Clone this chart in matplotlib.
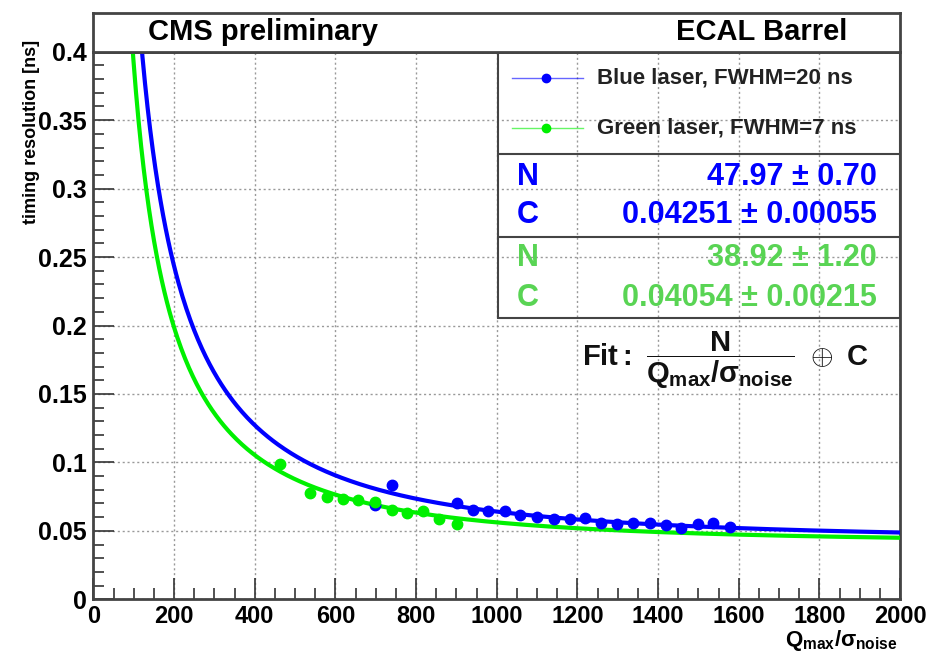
import numpy as np
import matplotlib
matplotlib.use("Agg")
import matplotlib.pyplot as plt
from matplotlib.patches import Rectangle
from matplotlib.ticker import MultipleLocator, FuncFormatter

plt.rcParams['font.family'] = ['Liberation Sans', 'DejaVu Sans']
plt.rcParams['font.weight'] = 'bold'
plt.rcParams['mathtext.fontset'] = 'custom'
plt.rcParams['mathtext.rm'] = 'Liberation Sans:bold'
plt.rcParams['mathtext.bf'] = 'Liberation Sans:bold'
plt.rcParams['mathtext.it'] = 'Liberation Sans:bold'
plt.rcParams['mathtext.sf'] = 'Liberation Sans:bold'

# measured points
blue_x = [698, 740, 901, 941, 979, 1021, 1058, 1099, 1141, 1182,
          1219, 1259, 1298, 1337, 1380, 1420, 1456, 1498, 1537, 1579]
blue_y = [0.0689, 0.0835, 0.0706, 0.0652, 0.0647, 0.0647, 0.0616, 0.0599, 0.0587, 0.0587,
          0.0592, 0.0555, 0.0550, 0.0560, 0.0560, 0.0543, 0.0519, 0.0550, 0.0560, 0.0526]
green_x = [463, 537, 579, 618, 657, 698, 740, 777, 818, 858, 901]
green_y = [0.0988, 0.0779, 0.0749, 0.0730, 0.0725, 0.0713, 0.0652, 0.0628, 0.0647, 0.0584, 0.0550]

# fit results
blue_N, blue_Nerr = 47.97, 0.70
blue_C, blue_Cerr = 0.04251, 0.00055
green_N, green_Nerr = 38.92, 1.20
green_C, green_Cerr = 0.04054, 0.00215

BLUE = '#0000ff'
GREEN = '#00f000'
GREEN_TXT = '#59d454'

fig = plt.figure(figsize=(9.27, 6.54), dpi=100)
ax = fig.add_axes([0.1007, 0.0836, 0.8702, 0.8373])

xf = np.linspace(80, 2000, 600)
ax.plot(xf, np.sqrt((blue_N / xf) ** 2 + blue_C ** 2), color=BLUE, lw=3, zorder=3)
ax.plot(xf, np.sqrt((green_N / xf) ** 2 + green_C ** 2), color=GREEN, lw=3, zorder=3)
ax.plot(blue_x, blue_y, 'o', color=BLUE, ms=7.5, zorder=4)
ax.plot(green_x, green_y, 'o', color=GREEN, ms=7.5, zorder=4)

ax.set_xlim(0, 2000)
ax.set_ylim(0, 0.4)
ax.xaxis.set_major_locator(MultipleLocator(200))
ax.xaxis.set_minor_locator(MultipleLocator(50))
ax.yaxis.set_major_locator(MultipleLocator(0.05))
ax.yaxis.set_minor_locator(MultipleLocator(0.01))
ax.xaxis.set_major_formatter(FuncFormatter(lambda v, p: '%g' % v))
ax.yaxis.set_major_formatter(FuncFormatter(lambda v, p: '%g' % round(v, 2)))
ax.tick_params(which='both', direction='in', top=False, right=False, color='#333333')
ax.tick_params(axis='x', labelsize=17, pad=4)
ax.tick_params(axis='y', labelsize=18, pad=5)
ax.tick_params(which='major', length=15, width=1.2)
ax.tick_params(which='minor', length=8, width=1.2)
ax.grid(True, which='major', ls=(0, (1.5, 2)), color='#999999', lw=1)
for s in ax.spines.values():
    s.set_linewidth(2)
    s.set_color('#444444')

# header box
hb = fig.add_axes([0.1007, 0.9209, 0.8702, 0.0588])
hb.set_xticks([]); hb.set_yticks([])
for s in hb.spines.values():
    s.set_linewidth(2)
    s.set_color('#444444')
fig.text(148.5 / 927, 1 - 32 / 654, 'CMS preliminary', fontsize=21, ha='left', va='center')
fig.text(847 / 927, 1 - 32 / 654, 'ECAL Barrel', fontsize=21, ha='right', va='center')

# legend / stats box
T = ax.transAxes
ax.add_patch(Rectangle((0.5017, 0.5137), 0.4983, 0.4863, transform=T, fill=False,
                       lw=1.5, ec='#444444', zorder=5))
for yy in (0.8132, 0.6616):
    ax.plot([0.5017, 1.0], [yy, yy], transform=T, color='#444444', lw=1.5, zorder=5)
for yy, col, lab in ((0.952, BLUE, 'Blue laser, FWHM=20 ns'),
                     (0.861, GREEN, 'Green laser, FWHM=7 ns')):
    ax.plot([0.519, 0.607], [yy, yy], transform=T, color=col, lw=1, alpha=0.6, clip_on=False, zorder=6)
    ax.plot([0.561], [yy], 'o', transform=T, color=col, ms=6, clip_on=False, zorder=6)
    ax.text(0.6244, yy, lab, transform=T, fontsize=16, ha='left', va='center', color='#222222')

rows = [(0.7712, 'N', '%.2f' % blue_N, '%.2f' % blue_Nerr, BLUE),
        (0.7018, 'C', '%.5f' % blue_C, '%.5f' % blue_Cerr, BLUE),
        (0.6233, 'N', '%.2f' % green_N, '%.2f' % green_Nerr, GREEN_TXT),
        (0.5502, 'C', '%.5f' % green_C, '%.5f' % green_Cerr, GREEN_TXT)]
for yy, name, val, err, col in rows:
    ax.text(0.5252, yy, name, transform=T, fontsize=22, ha='left', va='center', color=col)
    ax.text(0.9714, yy, val + ' \u00b1 ' + err, transform=T, fontsize=22, ha='right',
            va='center', color=col)

ax.text(0.6058, 0.437, r'$\mathbf{Fit:}\ \dfrac{N}{Q_{max}/\sigma_{noise}}\ \oplus\ C$',
        transform=T, fontsize=21, ha='left', va='center', color='#111111')

fig.text(0.968, 0.001, r'$Q_{max}/\sigma_{noise}$', fontsize=16, ha='right', va='bottom')
fig.text(32 / 927, 1 - 40 / 654, 'timing resolution [ns]', fontsize=13, rotation=90,
         ha='center', va='top')

fig.savefig('out.png', dpi=100)
